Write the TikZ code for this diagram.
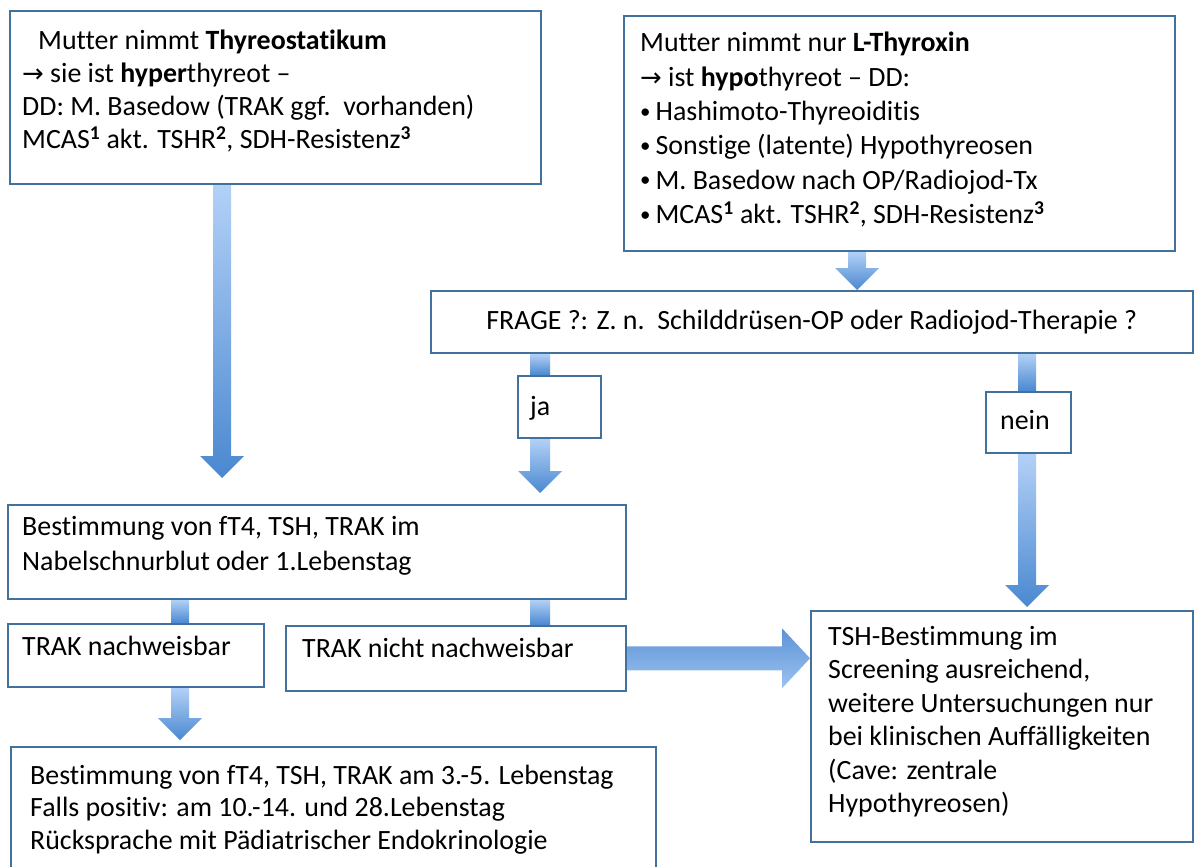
\documentclass[tikz,border=0pt]{standalone}
\usepackage{fontspec}
\setmainfont{Carlito}[Ligatures=NoCommon]
\newfontfamily\arrowfont{DejaVu Sans}
\usetikzlibrary{calc,backgrounds}
\definecolor{bord}{HTML}{41719C}
\definecolor{atop}{HTML}{B3D1F7}
\definecolor{abot}{HTML}{4A88D0}
\definecolor{hdark}{HTML}{5C93D6}
\definecolor{hlight}{HTML}{9DC2F0}
\newcommand\tarr{{\arrowfont\fontsize{26}{26}\selectfont →}}
\newcommand\bul{\raisebox{2.5bp}{\fontsize{21}{21}\selectfont •}\hspace{5bp}}
\tikzset{
 box/.style={draw=bord, line width=1.6bp, fill=white, anchor=north west, inner sep=0},
 txt/.style={anchor=north west, inner sep=0, align=left, font=\fontsize{28}{33}\selectfont},
 fatarrow/.style={top color=atop, bottom color=abot, draw=none},
}
% #1 start point, #2 end point (node), #3 gap above end, #4 shaft half width
\newcommand\fatdown[4]{\shade[fatarrow] let \p1=(#1), \p2=(#2) in
 (\x1-#4,\y1) -- (\x1+#4,\y1) -- (\x1+#4,\y2+#3+22bp) -- (\x1+22bp,\y2+#3+22bp) -- (\x1,\y2+#3)
 -- (\x1-22bp,\y2+#3+22bp) -- (\x1-#4,\y2+#3+22bp) -- cycle;}
\newcommand\fatstub[3]{\shade[fatarrow] let \p1=(#1), \p2=(#2) in (\x1-#3,\y1) rectangle (\x1+#3,\y2);}
\begin{document}
\begin{tikzpicture}[x=1bp,y=-1bp]
\useasboundingbox (0,0) rectangle (1194,867);
% boxes
\node[box, minimum width=531bp, minimum height=173bp] (A) at (9,10) {};
\node[box, minimum width=551bp, minimum height=235bp] (B) at (623,15) {};
\node[box, minimum width=762bp, minimum height=62bp, font=\fontsize{28}{33}\selectfont] (C) at (430,290) {FRAGE ?: Z. n.\ \ Schilddrüsen-OP oder Radiojod-Therapie ?};
\node[box, minimum width=83bp, minimum height=62bp] (ja) at (517,375) {};
\node[box, minimum width=85bp, minimum height=61bp] (nein) at (985,391) {};
\node[box, minimum width=618bp, minimum height=94bp] (D) at (7,504) {};
\node[box, minimum width=256bp, minimum height=63bp] (E) at (7,623) {};
\node[box, minimum width=340bp, minimum height=65bp] (F) at (285,625) {};
\node[box, minimum width=382bp, minimum height=231bp] (G) at (810,610) {};
\node[box, minimum width=645bp, minimum height=140bp] (H) at (10,746) {};
% texts
\node[txt] (At) at (22,30) {\hspace{16bp}Mutter nimmt \textbf{Thyreostatikum}\\
\tarr{} sie ist \textbf{hyper}thyreot --\\
DD: M. Basedow (TRAK ggf.\ \ vorhanden)\\
MCAS\textsuperscript{\textbf{1}} akt. TSHR\textsuperscript{\textbf{2}}, SDH-Resistenz\textsuperscript{\textbf{3}}};
\node[txt, font=\fontsize{28}{34.5}\selectfont] (Bt) at (640,32) {Mutter nimmt nur \textbf{L-Thyroxin}\\
\tarr{} ist \textbf{hypo}thyreot -- DD:\\
\bul Hashimoto-Thyreoiditis\\
\bul Sonstige (latente) Hypothyreosen\\
\bul M. Basedow nach OP/Radiojod-Tx\\
\bul MCAS\textsuperscript{\textbf{1}} akt. TSHR\textsuperscript{\textbf{2}}, SDH-Resistenz\textsuperscript{\textbf{3}}};
\node[txt, anchor=base west] (jat) at (530,415) {ja};
\node[txt, anchor=base west] (neint) at (1000,429) {nein};
\node[txt, font=\fontsize{28}{35}\selectfont] (Dt) at (22,516) {Bestimmung von fT4, TSH, TRAK im\\Nabelschnurblut oder 1.Lebenstag};
\node[txt] (Et) at (22,636) {TRAK nachweisbar};
\node[txt] (Ft) at (302,638) {TRAK nicht nachweisbar};
\node[txt, font=\fontsize{28}{33.6}\selectfont] (Gt) at (828,626) {TSH-Bestimmung im\\Screening ausreichend,\\weitere Untersuchungen nur\\bei klinischen Auffälligkeiten\\(Cave: zentrale\\Hypothyreosen)};
\node[txt, font=\fontsize{28}{32.5}\selectfont] (Ht) at (30,765) {Bestimmung von fT4, TSH, TRAK am 3.-5. Lebenstag\\Falls positiv: am 10.-14. und 28.Lebenstag\\Rücksprache mit Pädiatrischer Endokrinologie};
% arrows
\begin{scope}[on background layer]
\fatdown{[xshift=213bp]A.south west}{D.north}{26bp}{9bp}
\fatdown{[xshift=234bp]B.south west}{C.north}{0bp}{9bp}
\fatstub{[xshift=23bp]ja.north west}{C.south}{10bp}
\fatdown{[xshift=23bp]ja.south west}{D.north}{11bp}{10bp}
\fatstub{[xshift=42bp]nein.north west}{C.south}{9bp}
\fatdown{[xshift=42bp]nein.south west}{G.north}{3bp}{9bp}
\fatstub{[xshift=173bp]E.north west}{D.south}{9bp}
\fatstub{[xshift=255bp]F.north west}{D.south}{10bp}
\fatdown{[xshift=173bp]E.south west}{H.north}{6bp}{9bp}
\shade[top color=hdark, bottom color=hlight] let \p1=(F.east), \p2=(G.west) in
 (\x1,\y1+12bp) -- (\x2-28bp,\y1+12bp) -- (\x2-28bp,\y1+30bp) -- (\x2,\y1) -- (\x2-28bp,\y1-30bp)
 -- (\x2-28bp,\y1-12bp) -- (\x1,\y1-12bp) -- cycle;
\end{scope}
\end{tikzpicture}
\end{document}
